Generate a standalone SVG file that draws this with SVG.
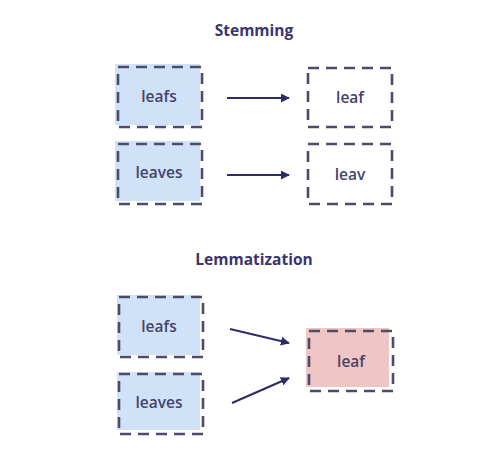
<svg xmlns="http://www.w3.org/2000/svg" width="491" height="465" viewBox="0 0 491 465">
<style>
.title{font-family:"Open Sans","Liberation Sans",sans-serif;font-weight:700;font-size:15.5px;fill:#3a356e;text-anchor:middle}
.lbl{font-family:"Open Sans","Liberation Sans",sans-serif;font-weight:600;font-size:15.5px;fill:#45436a;text-anchor:middle;dominant-baseline:central}
.blue{fill:#cfe2f8}
.pink{fill:#efc6c5}
.dash{fill:none;stroke:#4d4b6c;stroke-width:2.6;stroke-dasharray:11 7}
.conn{stroke:#2f2b68;stroke-width:2;fill:none}
</style>
<defs>
<marker id="ah" viewBox="0 0 10 10" refX="9" refY="5" markerWidth="4.5" markerHeight="4.5" orient="auto" markerUnits="strokeWidth">
<path d="M0,0 L10,5 L0,10 z" fill="#2f2b68"/>
</marker>
</defs>
<rect width="491" height="465" fill="#ffffff"/>
<text class="title" x="254" y="36">Stemming</text>
<text class="title" x="254" y="265">Lemmatization</text>

<g id="s-leafs">
<rect class="blue" x="115" y="64" width="85" height="61"/>
<rect class="dash" x="118" y="67" width="84" height="60"/>
<text class="lbl" x="159" y="96">leafs</text>
</g>
<g id="s-leaves">
<rect class="blue" x="115" y="141" width="85" height="60"/>
<rect class="dash" x="118" y="144" width="84" height="60"/>
<text class="lbl" x="159" y="172">leaves</text>
</g>
<g id="s-leaf">
<rect class="dash" x="308" y="68" width="84" height="59"/>
<text class="lbl" x="350" y="97">leaf</text>
</g>
<g id="s-leav">
<rect class="dash" x="308" y="144" width="84" height="60"/>
<text class="lbl" x="350" y="174">leav</text>
</g>

<g id="l-leafs">
<rect class="blue" x="117" y="295" width="83" height="60"/>
<rect class="dash" x="119" y="297" width="84" height="60"/>
<text class="lbl" x="159" y="326">leafs</text>
</g>
<g id="l-leaves">
<rect class="blue" x="117" y="372" width="83" height="58"/>
<rect class="dash" x="119" y="374" width="84" height="60"/>
<text class="lbl" x="159" y="402">leaves</text>
</g>
<g id="l-leaf">
<rect class="pink" x="306" y="328" width="83" height="59"/>
<rect class="dash" x="309" y="331" width="84" height="60"/>
<text class="lbl" x="351" y="361">leaf</text>
</g>

<g id="connectors">
<line class="conn" x1="227" y1="98" x2="289" y2="98" marker-end="url(#ah)"/>
<line class="conn" x1="227" y1="175" x2="289" y2="175" marker-end="url(#ah)"/>
<line class="conn" x1="230" y1="329" x2="289" y2="343" marker-end="url(#ah)"/>
<line class="conn" x1="232" y1="403" x2="289" y2="378" marker-end="url(#ah)"/>
</g>
</svg>
